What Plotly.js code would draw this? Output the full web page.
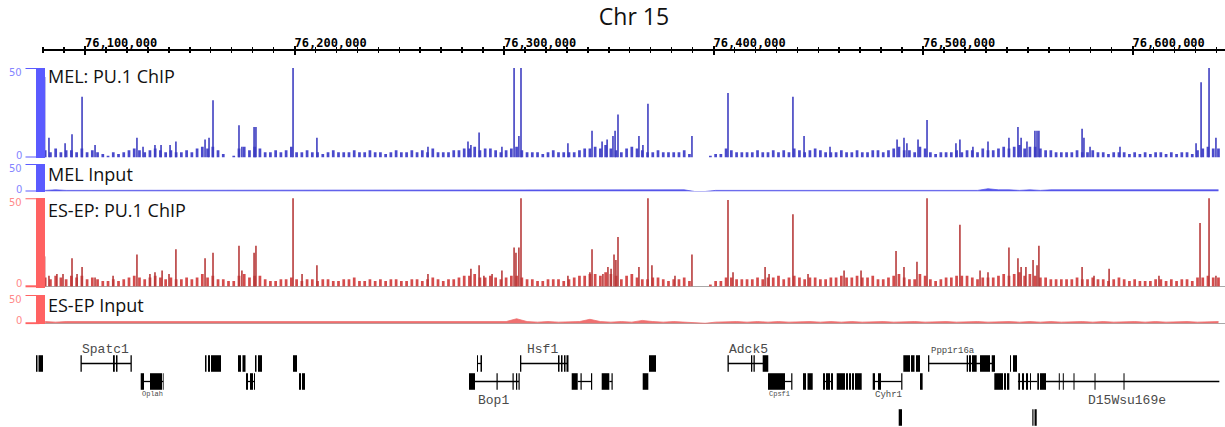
<!DOCTYPE html>
<html>
<head>
<meta charset="utf-8">
<script src="https://cdn.plot.ly/plotly-3.0.1.min.js"></script>
<style>html,body{margin:0;padding:0;background:#fff;}#chart{width:1225px;height:427px;}</style>
</head>
<body>
<div id="chart"></div>
<script>
// ---------- data (positions in kb on chr15) ----------
const tickVals = [76100, 76200, 76300, 76400, 76500, 76600];
const tickText = ['76,100,000', '76,200,000', '76,300,000', '76,400,000', '76,500,000', '76,600,000'];
const yTickVals = [50, 0];
const yTickText = ['50', '0'];
const trackNames = ['MEL: PU.1 ChIP', 'MEL Input', 'ES-EP: PU.1 ChIP', 'ES-EP Input'];

// background signal, 2.5 kb bins starting at 76,081 kb
const melNoise = [
  4,3,5,3,4,4,3,5,3,4,3,2,1,3,2,
  3,4,5,4,3,4,5,4,3,4,3,3,4,3,5,
  6,5,6,4,2,0,1,5,6,4,6,5,3,3,4,
  3,4,6,3,3,4,3,3,2,3,4,3,3,3,4,
  3,3,4,3,3,2,3,4,3,3,4,3,4,3,5,
  3,3,3,4,4,5,5,6,4,5,5,4,3,4,5,
  6,4,3,3,3,2,3,4,3,3,3,3,4,5,5,
  6,5,7,5,4,3,5,6,5,4,3,3,4,3,3,
  3,3,4,2,0,0,0,1,2,2,5,4,3,3,3,
  3,4,3,3,4,3,4,3,5,4,3,4,5,4,3,
  3,3,4,3,3,4,3,3,4,4,3,4,5,6,4,
  4,3,6,5,3,2,3,3,3,4,3,4,4,3,5,
  4,4,5,6,5,6,7,5,6,6,5,4,4,3,3,
  3,3,4,3,3,4,3,3,2,3,3,3,2,3,2,
  3,2,3,3,2,3,2,3,3,2,4,5,6,5,5
];
const esNoise = [
  5,4,6,5,4,6,5,6,4,5,4,3,3,4,3,
  4,5,6,5,4,5,6,5,4,5,4,4,5,4,5,
  7,5,6,4,4,3,3,6,7,5,6,6,4,3,3,
  4,4,5,4,3,4,4,3,4,4,3,3,4,4,5,
  3,3,4,3,4,3,4,4,3,3,4,4,3,4,5,
  4,3,4,4,5,6,6,7,5,5,6,5,4,5,6,
  6,5,4,4,3,3,4,4,4,3,4,5,6,6,7,
  7,6,8,7,6,4,6,7,5,4,4,5,5,4,3,
  4,4,5,3,0,0,0,1,3,3,5,5,4,4,4,
  4,5,4,5,5,6,4,5,6,5,4,5,5,4,4,
  5,5,6,5,5,6,5,5,6,4,4,5,6,7,5,
  4,4,7,6,4,3,4,5,5,6,6,6,5,4,5,
  5,5,6,7,6,7,8,6,7,6,5,5,4,4,4,
  4,4,5,4,4,5,4,4,3,4,5,4,3,4,3,
  3,3,4,4,3,4,3,4,4,3,5,5,6,5,5
];

// peaks (kb, signal)
const melPeakX = [76080.7,76082.8,76090.5,76093.8,76098.6,76104.8,76124.8,76127.7,76133.4,76136.3,76140.6,76143.4,76157.3,76159.2,76161.1,76173.5,76174.9,76180.7,76181.6,76199.3,76210.7,76263.7,76282.8,76284.2,76288.1,76299.0,76304.8,76307.1,76308.1,76330.5,76342.0,76346.8,76349.2,76352.0,76353.0,76354.4,76364.4,76366.3,76368.7,76389.7,76406.9,76437.9,76443.2,76455.6,76487.6,76490.9,76492.3,76497.6,76501.9,76515.7,76517.6,76523.8,76531.0,76541.0,76545.3,76546.8,76549.6,76553.4,76554.4,76555.3,76575.9,76576.8,76579.7,76594.0,76630.3,76632.7,76636.5,76639.8];
const melPeakY = [45,11,8,13,34,7,11,6,7,7,7,9,10,11,32,18,6,17,17,55,11,6,9,7,14,6,55,12,55,8,15,9,10,12,15,24,12,7,30,12,36,34,12,6,10,11,8,10,21,8,10,6,9,11,17,11,9,15,15,15,16,11,6,6,8,42,55,11];
const esPeakX = [76080.7,76082.8,76086.6,76089.5,76093.8,76096.2,76098.6,76104.8,76113.4,76124.8,76131.0,76133.4,76136.8,76140.1,76143.4,76157.3,76161.1,76173.5,76174.9,76180.7,76181.6,76199.3,76203.6,76210.7,76263.7,76284.2,76288.1,76290.4,76294.3,76299.0,76304.8,76305.7,76307.1,76308.1,76330.5,76341.0,76342.0,76347.2,76349.6,76351.1,76352.5,76353.4,76354.4,76364.4,76368.7,76370.6,76381.6,76389.7,76406.9,76409.3,76424.6,76426.5,76437.9,76445.1,76462.3,76470.4,76487.1,76490.9,76497.1,76501.9,76517.6,76527.2,76531.0,76541.0,76545.3,76546.8,76549.1,76552.5,76554.4,76555.3,76575.9,76581.6,76588.8,76612.6,76632.2,76636.5,76639.8];
const esPeakY = [17,6,7,7,16,7,11,5,6,18,7,8,9,7,21,16,19,23,9,19,23,55,7,12,7,10,12,6,7,9,22,19,22,55,6,8,21,7,11,10,18,15,28,11,55,12,6,18,49,8,11,7,41,7,9,9,20,11,14,55,35,9,8,22,16,11,11,15,12,23,11,6,10,6,36,55,6];

// input tracks, 5 kb bins starting at 76,081 kb
const melInput = [2,3,2,2,3,2,3,2,2,3, 2,2,3,2,2,3,2,2,3,2, 2,3,3,2,2,3,2,2,3,2, 3,2,2,3,2,3,2,2,3,2, 2,3,2,3,3,2,2,3,3,2, 3,2,3,3,2,2,3,2,3,2, 2,3,0,0,2,2,3,3,2,3, 2,3,2,2,3,2,3,2,3,3, 2,3,3,2,3,3,2,3,3,2, 5,3,3,2,3,2,3,3,2,3, 2,3,2,3,2,2,3,3,2,3, 2,3,3];
const esInput = [3,2,3,3,2,3,2,3,3,2, 3,3,2,3,2,3,3,2,3,2, 2,3,2,3,3,2,3,2,2,3, 3,2,3,2,3,3,2,3,2,3, 2,3,3,2,3,8,3,2,3,2, 2,3,7,3,2,3,2,5,3,2, 3,2,0,0,2,3,3,2,3,2, 3,2,3,3,2,3,2,3,2,3, 3,2,3,3,2,3,3,2,3,3, 2,3,3,2,3,2,3,2,3,3, 2,3,2,3,3,2,3,2,3,3, 2,3,3];

// gene models: exons [start kb, end kb], lane
const exonStart = [76076.61,76077.81,76097.85,76113.36,76114.80,76121.72,76157.28,76158.71,76160.14,76173.03,76175.17,76181.14,76182.57,76199.28,76287.10,76288.77,76307.63,76325.76,76327.19,76328.63,76329.82,76369.20,76406.67,76417.88,76419.07,76423.46,76490.58,76494.26,76496.64,76502.37,76520.83,76521.93,76523.36,76527.19,76532.77,76541.50,76542.93,
  76126.59,76131.02,76137.13,76176.85,76178.75,76180.66,76202.14,76203.57,76283.28,76296.41,76304.05,76305.72,76306.91,76332.30,76336.50,76341.51,76346.62,76351.30,76366.19,76426.00,76437.07,76442.70,76444.85,76452.25,76453.68,76456.07,76458.79,76463.23,76464.66,76466.09,76467.52,76475.97,76478.50,76489.57,76498.55,76534.01,76538.64,76540.07,76545.46,76547.23,76549.14,76551.05,76554.53,76555.82,76564.79,76566.70,76571.81,76581.84,76595.68,
  76488.38,76552.15,76553.20];
const exonEnd = [76077.33,76079.95,76098.47,76114.22,76115.51,76122.34,76157.99,76159.67,76164.91,76174.46,76176.61,76181.86,76184.48,76201.19,76287.58,76289.49,76308.25,76326.48,76327.91,76329.34,76330.77,76372.54,76407.29,76418.50,76419.69,76426.13,76493.78,76495.93,76498.55,76502.99,76521.45,76522.88,76525.60,76531.96,76534.34,76541.98,76544.84,
  76128.16,76136.75,76137.52,76177.80,76180.19,76181.14,76203.10,76205.00,76286.14,76296.98,76304.62,76306.29,76307.48,76335.17,76337.08,76342.08,76350.25,76351.87,76368.87,76434.11,76437.64,76444.13,76447.33,76453.20,76455.59,76457.02,76462.75,76464.18,76465.61,76467.04,76470.72,76477.07,76479.93,76490.15,76499.80,76538.16,76539.60,76541.17,76546.28,76548.18,76550.09,76551.52,76555.34,76558.69,76565.27,76567.18,76572.29,76582.32,76596.16,
  76489.95,76552.72,76554.25];
const exonLane = [1,1,1,1,1,1,1,1,1,1,1,1,1,1,1,1,1,1,1,1,1,1,1,1,1,1,1,1,1,1,1,1,1,1,1,1,1,
  2,2,2,2,2,2,2,2,2,2,2,2,2,2,2,2,2,2,2,2,2,2,2,2,2,2,2,2,2,2,2,2,2,2,2,2,2,2,2,2,2,2,2,2,2,2,2,2,2,
  4,4,4];
const intronStart = [76098.09,76287.30,76307.96,76406.91,76502.51, 76128.16,76176.85,76286.14,76335.17,76350.25,76434.11,76452.25,76477.07,76545.30,76558.69];
const intronEnd   = [76121.96,76289.10,76330.53,76425.99,76534.34, 76137.30,76181.14,76307.15,76341.85,76351.60,76437.31,76457.02,76489.81,76554.50,76641.42];
const intronLane  = [1,1,1,1,1, 2,2,2,2,2,2,2,2,2,2];

const geneNames = ['Spatc1','Oplah','Hsf1','Bop1','Adck5','Cpsf1','Cyhr1','Ppp1r16a','D15Wsu169e'];
const geneLabelX = [76109.55,76131.98,76318.60,76294.74,76416.45,76431.72,76483.27,76514.30,76597.34];
const geneLabelLane = [0.21,2.69,0.21,3.07,0.21,2.72,2.75,0.29,3.07];

// ---------- styles / layout geometry ----------
const W = 1225, H = 427;
const py = px => 1 - px / H;          // pixel row -> paper y
const geneLabelSize = [13,7,13,13,13,7,9,9,13];
const MEL = {bar:'#5b5bff', lab:'#8585ff', data:'#4a4acc', peak:'#3c3cc0', input:'#5656ea'};
const ES  = {bar:'#ff6262', lab:'#ff8a8a', data:'#d44c4c', peak:'#b63838', input:'#ef7070'};

const xRangeMain = [76079.48, 76644.12];
const xRangeGene = [76059.43, 76644.12];
const AXIS_X = 39.5 / W;

function trackAxis(domain, range, c, zero) {
  return {
    domain: domain, range: range, anchor: 'free', position: AXIS_X,
    showline: true, linecolor: c.bar, linewidth: 9,
    ticks: '', showticklabels: false,
    showgrid: false, zeroline: zero, zerolinecolor: '#a8a8a8', zerolinewidth: 1.5,
    fixedrange: true
  };
}

const traces = [];
traces.push({type:'bar', x0:76081, dx:2.5, y:melNoise, xaxis:'x', yaxis:'y', width:1.3,
  marker:{color:MEL.data, line:{width:0}}, hoverinfo:'skip'});
traces.push({type:'bar', x:melPeakX, y:melPeakY, xaxis:'x', yaxis:'y', width:0.75,
  marker:{color:MEL.peak, line:{width:0}}, hoverinfo:'skip'});
traces.push({type:'scatter', mode:'lines', x0:76081, dx:5, y:melInput, xaxis:'x', yaxis:'y2',
  fill:'tozeroy', fillcolor:MEL.input, line:{color:MEL.input, width:0.8}, hoverinfo:'skip'});
traces.push({type:'bar', x0:76081, dx:2.5, y:esNoise, xaxis:'x', yaxis:'y3', width:1.3,
  marker:{color:ES.data, line:{width:0}}, hoverinfo:'skip'});
traces.push({type:'bar', x:esPeakX, y:esPeakY, xaxis:'x', yaxis:'y3', width:0.75,
  marker:{color:ES.peak, line:{width:0}}, hoverinfo:'skip'});
traces.push({type:'scatter', mode:'lines', x0:76081, dx:5, y:esInput, xaxis:'x', yaxis:'y4',
  fill:'tozeroy', fillcolor:ES.input, line:{color:ES.input, width:0.8}, hoverinfo:'skip'});

// introns
const ix = [], iy = [];
for (let i = 0; i < intronStart.length; i++) {
  ix.push(intronStart[i], intronEnd[i], null);
  iy.push(intronLane[i], intronLane[i], null);
}
traces.push({type:'scatter', mode:'lines', x:ix, y:iy, xaxis:'x2', yaxis:'y5',
  line:{color:'#000', width:1.3}, hoverinfo:'skip'});
// exons
traces.push({type:'bar', orientation:'h', base:exonStart,
  x:exonEnd.map((e, i) => e - exonStart[i]), y:exonLane, xaxis:'x2', yaxis:'y5', width:0.92,
  marker:{color:'#000', line:{width:0}}, hoverinfo:'skip'});
// helper trace so the downward-tick overlay axis is drawn
traces.push({type:'scatter', mode:'none', x:[], y:[], xaxis:'x3', yaxis:'y', hoverinfo:'skip'});

const annotations = [];
const shapes = [];
const labelPx = [76.5, 174.2, 209.8, 304.8];
trackNames.forEach((t, i) => annotations.push({
  text: t, xref:'paper', yref:'paper', x: 46 / W, y: py(labelPx[i]),
  xanchor:'left', yanchor:'middle', showarrow:false,
  font:{family:'Open Sans', size:18, color:'#111'}
}));
// y-scale brackets: tick marks and labels at 50 and 0 on each track axis
const trackAxes = [['y', MEL], ['y2', MEL], ['y3', ES], ['y4', ES]];
trackAxes.forEach(([ax, c]) => {
  yTickVals.forEach((v, k) => {
    shapes.push({type:'line', xref:'paper', yref:ax, x0: 25.5 / W, x1: AXIS_X, y0: v, y1: v,
      line:{color:c.bar, width:2}});
    annotations.push({text: yTickText[k], xref:'paper', yref:ax, x: 23.5 / W, y: v,
      xanchor:'right', yanchor:'middle', yshift: k === 0 ? -4.5 : 2.5, showarrow:false,
      font:{family:'DejaVu Sans', size:10, color:c.lab}});
  });
});
geneNames.forEach((g, i) => annotations.push({
  text: g, xref:'x2', yref:'y5', x: geneLabelX[i], y: geneLabelLane[i],
  xanchor:'center', yanchor:'middle', showarrow:false,
  font:{family:'Liberation Mono', size: geneLabelSize[i], color:'#4a4a4a'}
}));

const axisPos = py(50);
const layout = {
  width: W, height: H, margin:{l:0, r:0, t:0, b:0},
  paper_bgcolor:'#fff', plot_bgcolor:'rgba(0,0,0,0)', showlegend:false, barmode:'overlay',
  title:{text:'Chr 15', x: 634 / W, xanchor:'center', y: py(17), yanchor:'middle',
    font:{family:'Open Sans', size:23, color:'#111'}},
  xaxis:{domain:[42 / W, 1], range:xRangeMain, anchor:'free', position:axisPos, side:'top',
    showline:true, linecolor:'#000', linewidth:2, ticks:'outside', ticklen:3, tickwidth:2, tickcolor:'#000',
    tickmode:'array', tickvals:tickVals, ticktext:tickText, ticklabelposition:'outside right',
    ticklabelshift:-2, ticklabelstandoff:-3,
    tickfont:{family:'DejaVu Sans Mono', size:12, color:'#000', weight:'bold'},
    minor:{ticks:'outside', ticklen:2, tickwidth:1.5, tickcolor:'#000', tick0:0, dtick:10, showgrid:false},
    showgrid:false, zeroline:false, fixedrange:true},
  xaxis3:{domain:[42 / W, 1], range:xRangeMain, overlaying:'x', anchor:'free', position:axisPos, side:'bottom',
    showline:false, ticks:'outside', ticklen:4, tickwidth:2, tickcolor:'#000',
    tickmode:'array', tickvals:tickVals, showticklabels:false,
    minor:{ticks:'outside', ticklen:2, tickwidth:1.5, tickcolor:'#000', tick0:0, dtick:10, showgrid:false},
    showgrid:false, zeroline:false, fixedrange:true},
  xaxis2:{domain:[0, 1], range:xRangeGene, anchor:'y5', visible:false, fixedrange:true},
  yaxis:  trackAxis([py(157.5), py(68)], [0, 50], MEL, false),
  yaxis2: trackAxis([py(191.5), py(164)], [0, 50], MEL, false),
  yaxis3: trackAxis([py(288.06), py(198.3)], [-1, 50], ES, true),
  yaxis4: trackAxis([py(324.4), py(295)], [-2, 50], ES, true),
  yaxis5: {domain:[0, py(340)], range:[4.528, -0.306], anchor:'x2', visible:false, fixedrange:true},
  annotations: annotations,
  shapes: shapes
};

Plotly.newPlot('chart', traces, layout, {staticPlot:true, displayModeBar:false});
</script>
</body>
</html>
